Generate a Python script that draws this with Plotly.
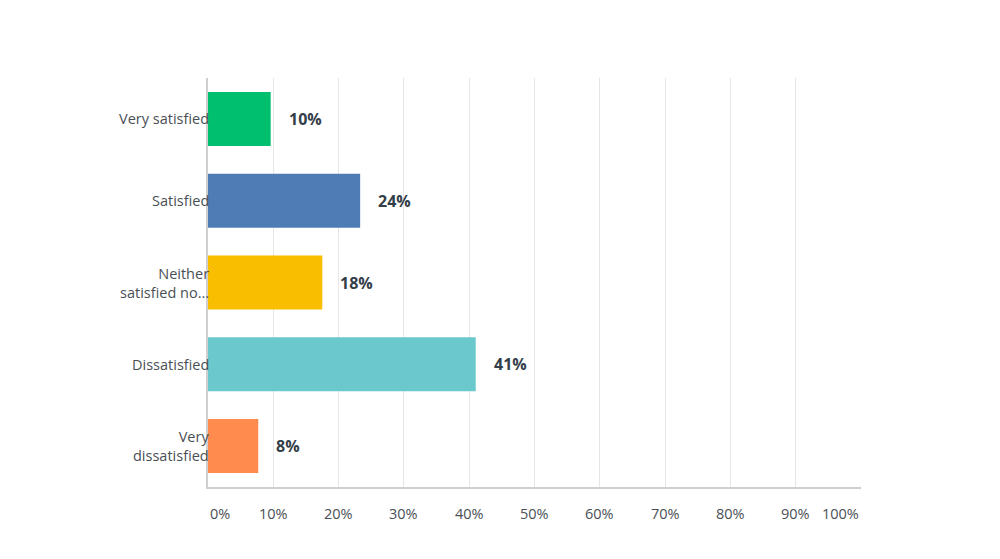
import plotly.graph_objects as go

categories = ['Very satisfied', 'Satisfied', 'Neither<br>satisfied no...', 'Dissatisfied', 'Very<br>dissatisfied']
values = [9.6, 23.3, 17.5, 41.0, 7.7]
value_labels = ['10%', '24%', '18%', '41%', '8%']
bar_colors = ['#00BF6F', '#507CB6', '#F9BE00', '#6BC8CD', '#FF8B4F']
tick_vals = [0, 10, 20, 30, 40, 50, 60, 70, 80, 90, 100]
tick_text = ['0%', '10%', '20%', '30%', '40%', '50%', '60%', '70%', '80%', '90%', '100%']

text_color = '#333E48'
label_color = '#4A4F55'
font_family = 'Open Sans, sans-serif'

fig = go.Figure(go.Bar(
    x=values,
    y=categories,
    orientation='h',
    width=0.66,
    marker=dict(color=bar_colors, line=dict(width=0)),
    hoverinfo='skip',
))

# value labels a little right of each bar
for cat, v, lab in zip(categories, values, value_labels):
    fig.add_annotation(
        x=v, y=cat, text=f'<b>{lab}</b>', showarrow=False,
        xanchor='left', xshift=16,
        font=dict(family=font_family, size=16, color=text_color),
    )

# category labels drawn right up against the axis line
for cat in categories:
    fig.add_annotation(
        x=0, xref='paper', y=cat, text=cat, showarrow=False,
        xanchor='right', align='right', xshift=3,
        font=dict(family=font_family, size=14.5, color=label_color),
    )

# x tick labels, edge ones kept inside the plot like the original
for v, t in zip(tick_vals, tick_text):
    anchor = 'left' if v == 0 else ('right' if v == 100 else 'center')
    fig.add_annotation(
        x=v, y=0, xref='x', yref='paper', yshift=-26, text=t,
        showarrow=False, xanchor=anchor, yanchor='middle',
        font=dict(family=font_family, size=14.5, color=label_color),
    )

fig.update_xaxes(
    range=[0, 100], tickvals=tick_vals, showticklabels=False,
    showgrid=True, gridcolor='#E6E6E6', gridwidth=1,
    showline=True, linecolor='#CFCFCF', linewidth=1.5,
    zeroline=False, fixedrange=True,
)
fig.update_yaxes(
    autorange='reversed', showgrid=False, showticklabels=False,
    showline=True, linecolor='#CFCFCF', linewidth=1.5,
    ticks='', fixedrange=True,
)

fig.update_layout(
    width=1000, height=559,
    margin=dict(l=200, r=147, t=70, b=80),
    paper_bgcolor='white', plot_bgcolor='white',
    showlegend=False, bargap=0.34,
)

fig.write_html('out.html')
